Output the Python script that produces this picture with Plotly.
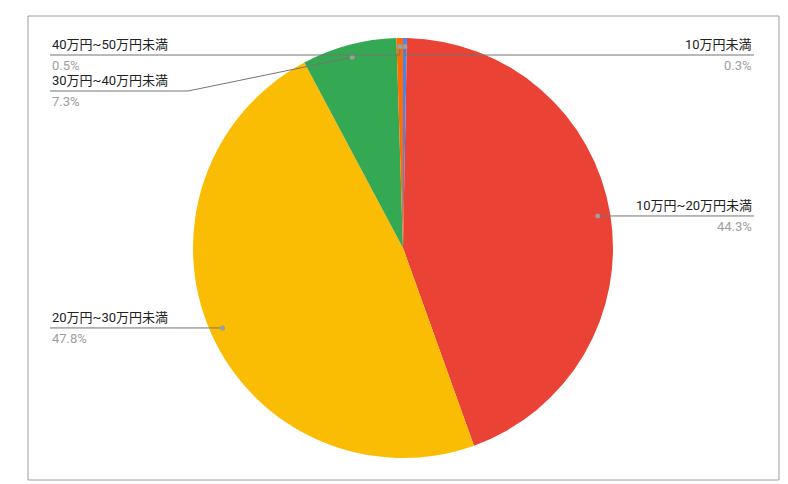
import plotly.graph_objects as go
import math

labels = ["10万円未満", "10万円~20万円未満", "20万円~30万円未満", "30万円~40万円未満", "40万円~50万円未満"]
values = [0.3, 44.3, 47.8, 7.3, 0.5]
pct_text = ["0.3%", "44.3%", "47.8%", "7.3%", "0.5%"]
colors = ["#4285F4", "#EA4335", "#FBBC04", "#34A853", "#FF6D01"]

W, H = 788, 484
CX, CY, R = 395, 240, 210
def px(x): return x / W
def py(y): return 1 - y / H

fig = go.Figure(go.Pie(
    labels=labels, values=values, sort=False, direction="clockwise", rotation=0,
    marker=dict(colors=colors, line=dict(width=0)), textinfo="none", hoverinfo="label+percent",
    domain=dict(x=[px(CX - R), px(CX + R)], y=[py(CY + R), py(CY - R)]), showlegend=False))

# label layout (side, line y, elbow x)
layout_info = [("r", 47, None), ("r", None, None), ("l", None, None), ("l", 83, 180), ("l", 47, None)]
total = sum(values)
cum = 0
shapes = [dict(type="rect", xref="paper", yref="paper", x0=px(20), x1=px(771), y0=py(472), y1=py(8),
               line=dict(color="#9e9e9e", width=1))]
ann = []
for i, v in enumerate(values):
    mid = (cum + v / 2) / total * 2 * math.pi
    cum += v
    r = R * 0.94 if v > 2 else R * 0.96
    dx, dy = CX + r * math.sin(mid), CY - r * math.cos(mid)
    side, ly, ex = layout_info[i]
    if ly is None: ly = dy
    endx = 746 if side == "r" else 42
    pts = [(dx, dy)]
    if ex is not None: pts.append((ex, ly))
    else: pts.append((dx, ly))
    pts.append((endx, ly))
    path = "M " + " L ".join(f"{px(a)},{py(b)}" for a, b in pts)
    shapes.append(dict(type="path", xref="paper", yref="paper", path=path, line=dict(color="#757575", width=1)))
    shapes.append(dict(type="circle", xref="paper", yref="paper", x0=px(dx - 2.5), x1=px(dx + 2.5),
                       y0=py(dy + 2.5), y1=py(dy - 2.5), fillcolor="#9e9e9e", line=dict(width=0)))
    xa = "right" if side == "r" else "left"
    ann.append(dict(x=px(endx), y=py(ly - 1), xref="paper", yref="paper", text=labels[i], showarrow=False,
                    xanchor=xa, yanchor="bottom", font=dict(size=13, color="#222222")))
    ann.append(dict(x=px(endx), y=py(ly + 1), xref="paper", yref="paper", text=pct_text[i], showarrow=False,
                    xanchor=xa, yanchor="top", font=dict(size=13, color="#9e9e9e")))

fig.update_layout(width=W, height=H, margin=dict(l=0, r=0, t=0, b=0), paper_bgcolor="white",
                  shapes=shapes, annotations=ann,
                  font=dict(family="Roboto, 'Noto Sans CJK JP', sans-serif"))
fig.write_html("out.html")
